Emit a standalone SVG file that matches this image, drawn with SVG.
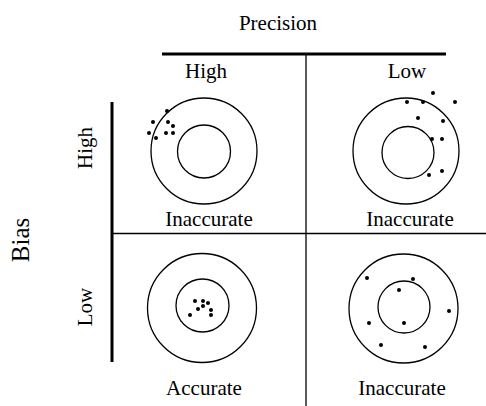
<svg xmlns="http://www.w3.org/2000/svg" width="486" height="406" viewBox="0 0 486 406">
<style>
text{font-family:"Liberation Serif","Times New Roman",serif;fill:#000}
.lbl{font-size:21px;text-anchor:middle}
.big{font-size:25px;text-anchor:middle}
.thick{stroke:#000;stroke-width:3;fill:none}
.thin{stroke:#000;stroke-width:1.3;fill:none}
.ring{stroke:#000;stroke-width:1.3;fill:none}
.dot{fill:#000}
</style>
<rect width="486" height="406" fill="#fff"/>
<g id="connectors">
<line class="thick" x1="162" y1="54" x2="446" y2="54"/>
<line class="thick" x1="112" y1="102" x2="112" y2="362"/>
<line class="thin" x1="306" y1="54" x2="306" y2="406"/>
<line class="thin" x1="112" y1="233.5" x2="486" y2="233.5"/>
</g>
<g id="axis-labels">
<text class="lbl" x="278" y="30">Precision</text>
<text class="lbl" x="206" y="78">High</text>
<text class="lbl" x="407" y="78">Low</text>
<text class="big" transform="translate(29,240) rotate(-90)">Bias</text>
<text class="lbl" transform="translate(92,148) rotate(-90)">High</text>
<text class="lbl" transform="translate(92,307) rotate(-90)">Low</text>
</g>
<g id="target-high-high">
<circle class="ring" cx="204" cy="151" r="53"/>
<circle class="ring" cx="204" cy="151.5" r="26.5"/>
<g class="dot">
<circle cx="167" cy="111" r="2"/><circle cx="153" cy="122" r="2"/><circle cx="168" cy="122" r="2"/><circle cx="173" cy="126" r="2"/>
<circle cx="149" cy="133" r="2"/><circle cx="166" cy="133" r="2"/><circle cx="173" cy="133" r="2"/><circle cx="156" cy="138" r="2"/>
</g>
<text class="lbl" x="209" y="226">Inaccurate</text>
</g>
<g id="target-high-low">
<circle class="ring" cx="406" cy="151" r="53"/>
<circle class="ring" cx="408" cy="152.5" r="26"/>
<g class="dot">
<circle cx="433" cy="93" r="2"/><circle cx="407" cy="102" r="2"/><circle cx="423" cy="102" r="2"/><circle cx="455" cy="102" r="2"/>
<circle cx="418" cy="118" r="2"/><circle cx="443" cy="121" r="2"/><circle cx="432" cy="139" r="2"/><circle cx="442" cy="139" r="2"/>
<circle cx="429" cy="175" r="2"/><circle cx="442" cy="171" r="2"/>
</g>
<text class="lbl" x="410" y="226">Inaccurate</text>
</g>
<g id="target-low-high">
<circle class="ring" cx="202" cy="308" r="54.5"/>
<circle class="ring" cx="202.5" cy="305.5" r="26.5"/>
<g class="dot">
<circle cx="195" cy="301" r="2"/><circle cx="203" cy="301" r="2"/><circle cx="208" cy="303" r="2"/><circle cx="198" cy="309" r="2"/>
<circle cx="203" cy="306" r="2"/><circle cx="211" cy="310" r="2"/><circle cx="211" cy="315" r="2"/><circle cx="190" cy="315" r="2"/>
</g>
<text class="lbl" x="204" y="395">Accurate</text>
</g>
<g id="target-low-low">
<circle class="ring" cx="403.5" cy="308.5" r="54.5"/>
<circle class="ring" cx="404" cy="307" r="26"/>
<g class="dot">
<circle cx="367" cy="278" r="2"/><circle cx="413" cy="279" r="2"/><circle cx="399" cy="290" r="2"/><circle cx="449" cy="311" r="2"/>
<circle cx="369" cy="323" r="2"/><circle cx="404" cy="323" r="2"/><circle cx="381" cy="345" r="2"/><circle cx="425" cy="347" r="2"/>
</g>
<text class="lbl" x="402" y="395">Inaccurate</text>
</g>
</svg>
